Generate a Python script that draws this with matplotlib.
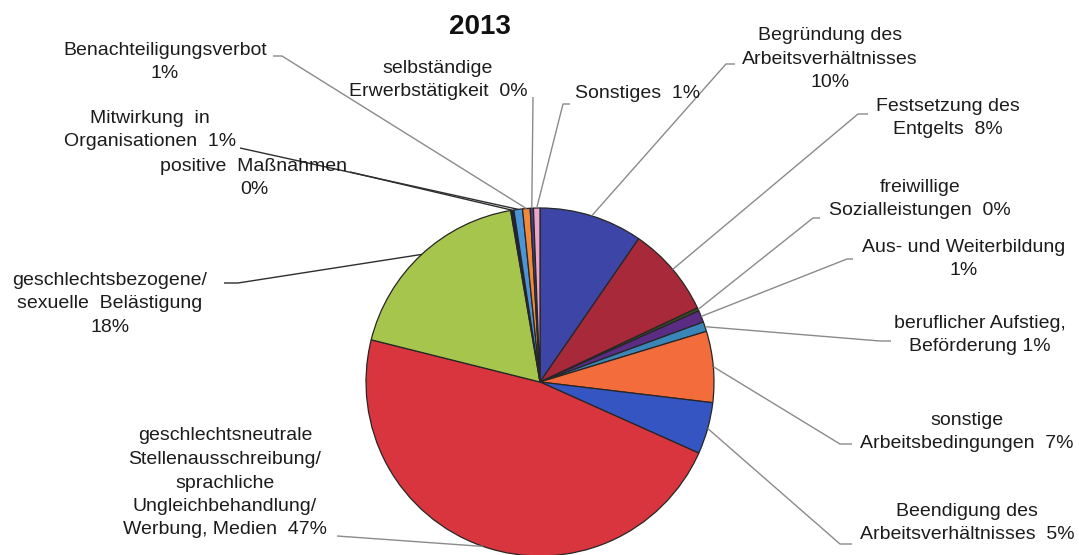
import matplotlib
matplotlib.use("Agg")
import matplotlib.pyplot as plt
import numpy as np

W, H = 1079, 555

# Share of cases per category (percent), clockwise from 12 o'clock
categories = [
    "Begründung des Arbeitsverhältnisses",
    "Festsetzung des Entgelts",
    "freiwillige Sozialleistungen",
    "Aus- und Weiterbildung",
    "beruflicher Aufstieg, Beförderung",
    "sonstige Arbeitsbedingungen",
    "Beendigung des Arbeitsverhältnisses",
    "geschlechtsneutrale Stellenausschreibung",
    "geschlechtsbezogene/sexuelle Belästigung",
    "positive Maßnahmen",
    "Mitwirkung in Organisationen",
    "Benachteiligungsverbot",
    "selbständige Erwerbstätigkeit",
    "Sonstiges",
]
shares = [9.6, 8.4, 0.3, 1.1, 0.9, 6.6, 4.8, 47.2, 18.4, 0.3, 0.8, 0.7, 0.3, 0.6]
label_templates = [
    "Begründung des\nArbeitsverhältnisses\n{}%",
    "Festsetzung des\nEntgelts  {}%",
    "freiwillige\nSozialleistungen  {}%",
    "Aus- und Weiterbildung\n{}%",
    "beruflicher Aufstieg,\nBeförderung {}%",
    "sonstige\nArbeitsbedingungen  {}%",
    "Beendigung des\nArbeitsverhältnisses  {}%",
    "geschlechtsneutrale\nStellenausschreibung/\nsprachliche\nUngleichbehandlung/\nWerbung, Medien  {}%",
    "geschlechtsbezogene/\nsexuelle  Belästigung\n{}%",
    "positive  Maßnahmen\n{}%",
    "Mitwirkung  in\nOrganisationen  {}%",
    "Benachteiligungsverbot\n{}%",
    "selbständige\nErwerbstätigkeit  {}%",
    "Sonstiges  {}%",
]
title = "2013"

colors = [
    "#3d46a6", "#a82a3a", "#3b4a22", "#5b2c83", "#3a86b8", "#f26c3c", "#3556c2",
    "#d8353f", "#a6c54c", "#22223a", "#4b94d8", "#f08a3a", "#4a3c8a", "#e9a6c9",
]

# Label placement in pixel coordinates (y measured from the top):
# text centre x, text centre y, leader anchor x, anchor y, tail length, leader colour
GRAY, DARK = "#8a8a8a", "#2e2e2e"
label_layout = [
    (830, 59, 726, 64, 9, GRAY),
    (948, 118, 858, 114, 10, GRAY),
    (920, 199, 813, 218, 7, GRAY),
    (964, 259, 847, 259, 6, GRAY),
    (980, 335, 880, 341, 11, GRAY),
    (967, 432, 840, 444, 12, GRAY),
    (967, 523, 840, 544, 12, GRAY),
    (225, 483, 337, 536, 0, GRAY),
    (110, 304, 238, 283, -14, DARK),
    (254, 178, 350, 172, 0, DARK),
    (150, 130, 240, 148, 0, DARK),
    (165, 62, 282, 56, -9, GRAY),
    (438, 80, 533, 97, 0, GRAY),
    (638, 94, 563, 104, 7, GRAY),
]

fig = plt.figure(figsize=(W / 100, H / 100), dpi=100)
fig.patch.set_facecolor("white")
ax = fig.add_axes([0, 0, 1, 1])

cx, cy, r = 540, H - 382, 174
wedges, _ = ax.pie(
    shares,
    colors=colors,
    startangle=90,
    counterclock=False,
    center=(cx, cy),
    radius=r,
    wedgeprops=dict(edgecolor="#262626", linewidth=0.9),
)
ax.set_xlim(0, W)
ax.set_ylim(0, H)
ax.set_aspect("auto")
ax.axis("off")

font = dict(family=["Liberation Sans", "DejaVu Sans"], fontsize=14, color="#1c1c1c")

for w, v, tmpl, (tx, ty, axp, ayp, tail, lc) in zip(wedges, shares, label_templates, label_layout):
    mid = np.deg2rad((w.theta1 + w.theta2) / 2)
    px, py = cx + r * np.cos(mid), cy + r * np.sin(mid)
    ay = H - ayp
    xs, ys = [px, axp], [py, ay]
    if tail:
        xs.append(axp + tail)
        ys.append(ay)
    ax.plot(xs, ys, color=lc, lw=1.0, solid_capstyle="butt", zorder=1)
    ax.text(tx, H - ty, tmpl.format(f"{v:.0f}"), ha="center", va="center",
            multialignment="center", linespacing=1.5, **font)

ax.text(480, H - 27, title, ha="center", va="center", fontsize=20,
        fontweight="bold", family=["Liberation Sans", "DejaVu Sans"], color="#111111")

fig.savefig("out.png", dpi=100, facecolor="white")
